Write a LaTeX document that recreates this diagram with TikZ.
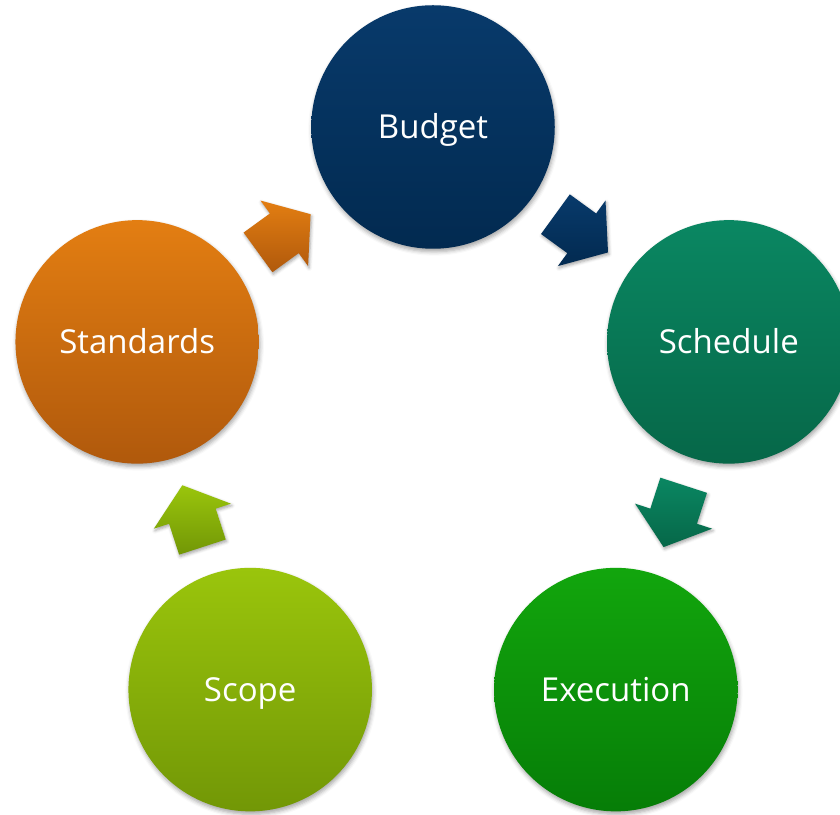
\documentclass[tikz,border=0pt]{standalone}
\usepackage{fontspec}
\setmainfont{Open Sans}
\usetikzlibrary{calc,shadows.blur}
\definecolor{budTop}{HTML}{083A6B}
\definecolor{budBot}{HTML}{022A50}
\definecolor{schTop}{HTML}{0A8762}
\definecolor{schBot}{HTML}{066748}
\definecolor{exeTop}{HTML}{12A60D}
\definecolor{exeBot}{HTML}{067D07}
\definecolor{scoTop}{HTML}{9AC50C}
\definecolor{scoBot}{HTML}{729706}
\definecolor{staTop}{HTML}{E37E12}
\definecolor{staBot}{HTML}{B0590C}
\begin{document}
\begin{tikzpicture}[x=1pt,y=1pt,
  circ/.style={circle, minimum size=243.5pt, inner sep=0pt, text=white,
    font=\fontsize{33}{40}\selectfont, text height=23.5pt, text depth=0pt,
    blur shadow={shadow xshift=1pt, shadow yshift=-3pt, shadow blur radius=4pt, shadow opacity=35}},
  blockarrow/.style={blur shadow={shadow xshift=1pt, shadow yshift=-2pt, shadow blur radius=3pt, shadow opacity=35}}]
\useasboundingbox (0,0) rectangle (840,814);
\coordinate (C) at (433,376);
\node[circ, top color=budTop, bottom color=budBot] (budget) at ($(C)+(90:311pt)$) {Budget};
\node[circ, top color=schTop, bottom color=schBot] (schedule) at ($(C)+(18:311pt)$) {Schedule};
\node[circ, top color=exeTop, bottom color=exeBot] (execution) at ($(C)+(-54:311pt)$) {Execution};
\node[circ, top color=scoTop, bottom color=scoBot] (scope) at ($(C)+(-126:311pt)$) {Scope};
\node[circ, top color=staTop, bottom color=staBot] (standards) at ($(C)+(162:311pt)$) {Standards};
\foreach \ang/\ctop/\cbot in {126/staTop/staBot, 54/budTop/budBot, -18/schTop/schBot, 198/scoTop/scoBot}{
  \begin{scope}[shift={($(C)+(\ang:253pt)$)}, rotate=\ang-90]
    \path[blockarrow, top color=\ctop, bottom color=\cbot]
      (-32.5,24.5) -- (0,24.5) -- (0,40.5) -- (32.5,0) -- (0,-40.5) -- (0,-24.5) -- (-32.5,-24.5) -- cycle;
  \end{scope}
}
\end{tikzpicture}
\end{document}
